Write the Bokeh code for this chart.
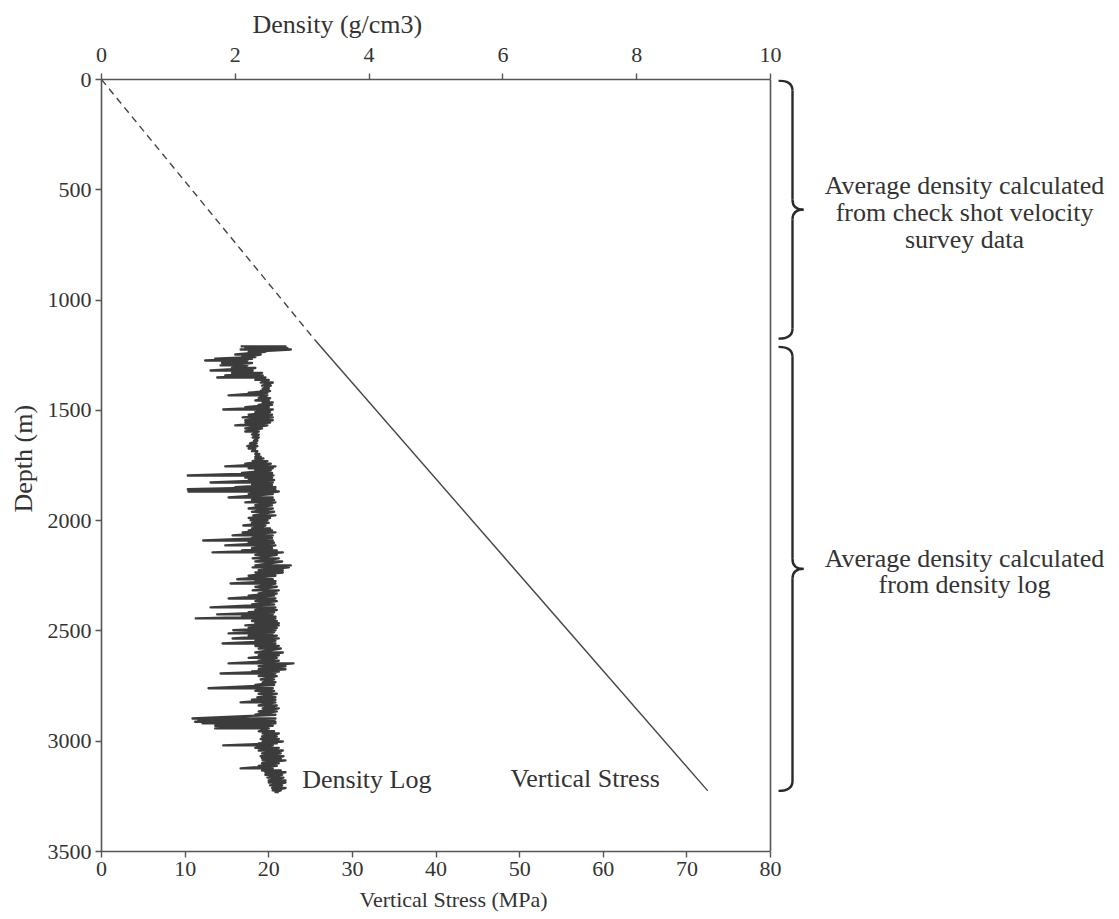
from bokeh.plotting import figure
from bokeh.models import Range1d, LinearAxis, FixedTicker, Title
from bokeh.embed import file_html
from bokeh.resources import INLINE
from bokeh.core.properties import value

FONT = "Liberation Serif"
INK = "#333333"
AXC = "#555555"

# ---------------- data ----------------
density_ticks = [0, 2, 4, 6, 8, 10]
stress_ticks = [0, 10, 20, 30, 40, 50, 60, 70, 80]
depth_ticks = [0, 500, 1000, 1500, 2000, 2500, 3000, 3500]

# vertical stress profile (MPa vs depth m); dashed = check-shot part, solid = density-log part
stress_dash_depth = [0, 1180]
stress_dash_mpa = [0, 25.5]
stress_solid_depth = [1180, 3225]
stress_solid_mpa = [25.5, 72.5]

# density log: depth (m) with the left/right extent of the trace (g/cm3)
log_depth = [
    1210, 1218, 1224, 1235, 1247, 1258, 1266, 1274, 1285, 1296,
    1308, 1319, 1330, 1342, 1351, 1362, 1374, 1388, 1401, 1412,
    1420, 1432, 1445, 1455, 1464, 1475, 1486, 1496, 1508, 1520,
    1532, 1545, 1555, 1568, 1582, 1596, 1610, 1623, 1638, 1650,
    1662, 1673, 1685, 1698, 1710, 1718, 1730, 1742, 1754, 1763,
    1772, 1784, 1795, 1805, 1816, 1827, 1838, 1848, 1858, 1868,
    1880, 1895, 1906, 1917, 1930, 1945, 1960, 1976, 1988, 1999,
    2010, 2022, 2035, 2045, 2053, 2067, 2078, 2090, 2100, 2112,
    2125, 2135, 2144, 2155, 2171, 2185, 2203, 2212, 2225, 2235,
    2250, 2266, 2275, 2285, 2300, 2316, 2330, 2340, 2353, 2365,
    2380, 2393, 2405, 2415, 2425, 2435, 2443, 2455, 2465, 2475,
    2487, 2497, 2505, 2511, 2522, 2534, 2545, 2557, 2568, 2580,
    2598, 2610, 2622, 2635, 2647, 2660, 2674, 2684, 2693, 2705,
    2720, 2733, 2745, 2760, 2772, 2785, 2801, 2812, 2824, 2838,
    2851, 2865, 2880, 2897, 2905, 2912, 2919, 2930, 2942, 2955,
    2965, 2978, 2990, 3001, 3010, 3019, 3030, 3042, 3055, 3068,
    3078, 3087, 3100, 3112, 3123, 3133, 3141, 3152, 3165, 3178,
    3187, 3200, 3212, 3223, 3230,
]
log_low = [
    2.08, 2.15, 2.08, 2.20, 2.00, 2.10, 1.70, 1.55, 1.80, 1.78,
    1.95, 1.63, 1.95, 1.85, 1.73, 2.30, 2.38, 2.40, 2.41, 2.38,
    2.20, 1.90, 2.35, 2.30, 2.41, 2.35, 2.15, 1.82, 2.30, 2.20,
    2.11, 2.15, 2.15, 2.00, 2.15, 2.15, 2.25, 2.26, 2.28, 2.22,
    2.18, 2.20, 2.25, 2.30, 2.30, 2.30, 2.26, 2.15, 1.85, 2.20,
    2.30, 2.10, 1.29, 2.15, 2.20, 1.63, 2.25, 2.00, 1.29, 1.30,
    2.20, 1.90, 2.25, 2.15, 2.30, 2.20, 2.25, 2.27, 2.20, 2.23,
    2.25, 2.12, 2.25, 2.20, 2.11, 1.96, 2.25, 1.52, 2.20, 1.85,
    2.25, 2.10, 1.66, 2.30, 2.26, 2.30, 2.30, 2.26, 2.35, 2.30,
    2.20, 2.03, 2.30, 1.93, 2.30, 2.26, 2.35, 2.20, 1.90, 2.30,
    2.25, 1.63, 2.30, 2.20, 1.73, 2.10, 1.41, 2.25, 2.30, 2.15,
    2.20, 1.97, 2.25, 1.90, 2.20, 1.96, 2.30, 1.81, 2.30, 2.35,
    2.30, 2.35, 2.20, 2.35, 1.90, 2.35, 2.35, 2.25, 1.78, 2.35,
    2.38, 2.41, 2.30, 1.60, 2.30, 2.35, 2.33, 2.25, 2.08, 2.35,
    2.41, 2.35, 2.30, 1.36, 1.45, 1.40, 1.51, 1.70, 1.70, 2.35,
    2.41, 2.40, 2.38, 2.41, 2.35, 1.82, 2.30, 2.35, 2.40, 2.38,
    2.40, 2.41, 2.40, 2.35, 2.08, 2.40, 2.45, 2.45, 2.48, 2.50,
    2.50, 2.52, 2.55, 2.56, 2.60,
]
log_high = [
    2.75, 2.78, 2.83, 2.45, 2.38, 2.30, 2.25, 2.18, 2.25, 2.18,
    2.30, 2.26, 2.40, 2.41, 2.45, 2.50, 2.56, 2.53, 2.50, 2.52,
    2.48, 2.48, 2.52, 2.50, 2.56, 2.55, 2.50, 2.56, 2.52, 2.55,
    2.56, 2.56, 2.52, 2.48, 2.40, 2.35, 2.35, 2.35, 2.33, 2.32,
    2.33, 2.30, 2.33, 2.36, 2.38, 2.42, 2.48, 2.53, 2.60, 2.56,
    2.53, 2.55, 2.57, 2.55, 2.58, 2.56, 2.55, 2.60, 2.60, 2.65,
    2.56, 2.56, 2.58, 2.60, 2.55, 2.56, 2.58, 2.60, 2.52, 2.48,
    2.50, 2.45, 2.52, 2.55, 2.60, 2.56, 2.55, 2.56, 2.58, 2.60,
    2.55, 2.62, 2.71, 2.62, 2.65, 2.70, 2.83, 2.80, 2.71, 2.71,
    2.60, 2.56, 2.60, 2.60, 2.62, 2.65, 2.62, 2.58, 2.60, 2.62,
    2.58, 2.60, 2.62, 2.58, 2.56, 2.60, 2.60, 2.62, 2.65, 2.65,
    2.62, 2.60, 2.58, 2.56, 2.62, 2.65, 2.60, 2.60, 2.65, 2.68,
    2.71, 2.65, 2.62, 2.65, 2.87, 2.75, 2.75, 2.65, 2.60, 2.62,
    2.58, 2.60, 2.58, 2.56, 2.58, 2.62, 2.60, 2.60, 2.60, 2.62,
    2.65, 2.62, 2.60, 2.60, 2.58, 2.60, 2.60, 2.56, 2.50, 2.58,
    2.65, 2.62, 2.65, 2.71, 2.62, 2.56, 2.65, 2.71, 2.68, 2.72,
    2.68, 2.75, 2.65, 2.62, 2.56, 2.68, 2.75, 2.70, 2.72, 2.75,
    2.75, 2.70, 2.75, 2.68, 2.65,
]
assert len(log_depth) == len(log_low) == len(log_high)

brace_spans = [(5, 1175), (1212, 3225)]
brace_notes = [
    ["Average density calculated", "from check shot velocity", "survey data"],
    ["Average density calculated", "from density log"],
]
curve_labels = ["Density Log", "Vertical Stress"]

# ---------------- layout ----------------
FRAME_W, FRAME_H = 1008, 772
PX_PER_80 = 669.0                     # screen px spanned by 0..80 MPa
XMAX = 80.0 * FRAME_W / PX_PER_80     # visible stress range (extends right of the box)
DENS_PER_MPA = 10.0 / 80.0

p = figure(frame_width=FRAME_W, frame_height=FRAME_H,
           x_range=Range1d(0, XMAX), y_range=Range1d(3500, 0),
           x_axis_location=None, y_axis_location=None,
           output_backend="svg", toolbar_location=None,
           min_border_left=101, min_border_top=79, min_border_bottom=66, min_border_right=0)
p.extra_x_ranges = {"dens": Range1d(0, XMAX * DENS_PER_MPA)}
p.outline_line_color = None
p.background_fill_color = "white"
p.border_fill_color = "white"
p.xgrid.visible = False
p.ygrid.visible = False


def style_axis(ax, size="22px", standoff=4):
    ax.axis_line_color = AXC
    ax.axis_line_width = 1.6
    ax.major_tick_line_color = AXC
    ax.major_tick_line_width = 1.4
    ax.major_tick_in = 0
    ax.major_tick_out = 6
    ax.minor_tick_line_color = None
    ax.major_label_text_font = FONT
    ax.major_label_text_font_size = size
    ax.major_label_text_color = INK
    ax.major_label_standoff = standoff


bottom = LinearAxis(ticker=FixedTicker(ticks=stress_ticks), bounds=(stress_ticks[0], stress_ticks[-1]))
style_axis(bottom, "22px", 4)
p.add_layout(bottom, "below")

top = LinearAxis(x_range_name="dens", ticker=FixedTicker(ticks=density_ticks),
                 bounds=(density_ticks[0], density_ticks[-1]))
style_axis(top, "22px", 12)
p.add_layout(top, "above")

left = LinearAxis(ticker=FixedTicker(ticks=depth_ticks))
style_axis(left, "22px", 4)
p.add_layout(left, "left")


def axis_title(text, size, align, offset, standoff):
    return Title(text=text, align=align, offset=offset, standoff=standoff,
                 text_font=FONT, text_font_size=size, text_font_style="normal", text_color=INK)


p.add_layout(axis_title("Density (g/cm3)", "26px", "left", 151, 12), "above")
p.add_layout(axis_title("Depth (m)", "26px", "left", 339, 13), "left")
p.add_layout(axis_title("Vertical Stress (MPa)", "22px", "left", 258, 13), "below")

# right border of the box
p.segment(x0=[stress_ticks[-1]], y0=[depth_ticks[0]], x1=[stress_ticks[-1]], y1=[depth_ticks[-1]],
          line_color=AXC, line_width=1.6)

# vertical stress
p.line(stress_dash_mpa, stress_dash_depth, line_color="#444444", line_width=1.4, line_dash="7 5")
p.line(stress_solid_mpa, stress_solid_depth, line_color="#444444", line_width=1.4)

# density log trace
lx, ly = [], []
for d, lo, hi in zip(log_depth, log_low, log_high):
    lx += [lo, hi]
    ly += [d, d]
p.line(lx, ly, x_range_name="dens", line_color="#3c3c3c", line_width=2.4, line_join="round")

# curve labels
p.text(x=[24.0, 48.9], y=[3172, 3168], text=curve_labels, text_font=value(FONT),
       text_font_size="26px", text_color=INK, text_align="left", text_baseline="middle")

# braces and notes
x_end, x_spine, x_tip = 80.96, 82.63, 83.95
curl = 45
for (y0, y1), lines in zip(brace_spans, brace_notes):
    ym = (y0 + y1) / 2
    p.quadratic(x0=[x_end, x_spine, x_tip, x_spine], y0=[y0, ym - curl, ym, y1 - curl],
                x1=[x_spine, x_tip, x_spine, x_end], y1=[y0 + curl, ym, ym + curl, y1],
                cx=[x_spine, x_spine, x_spine, x_spine], cy=[y0, ym, ym, y1],
                line_color="#2a2a2a", line_width=2.4)
    p.segment(x0=[x_spine, x_spine], y0=[y0 + curl, ym + curl], x1=[x_spine, x_spine], y1=[ym - curl, y1 - curl],
              line_color="#2a2a2a", line_width=2.4)
    n = len(lines)
    ys = [ym + 12 + (i - (n - 1) / 2) * 122 for i in range(n)]
    p.text(x=[103.2] * n, y=ys, text=lines, text_font=value(FONT), text_font_size="26px",
           text_color=INK, text_align="center", text_baseline="middle")

open("out.html", "w").write(file_html(p, INLINE))
